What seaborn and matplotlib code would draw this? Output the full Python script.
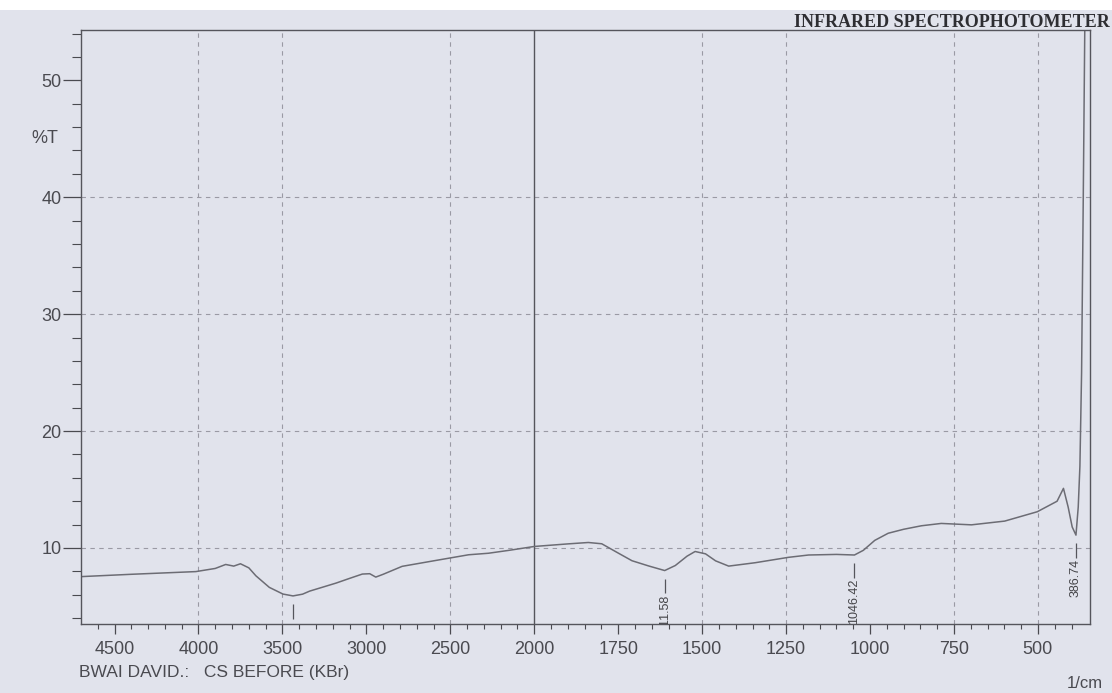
import numpy as np
import pandas as pd
import matplotlib
matplotlib.use("Agg")
import matplotlib.pyplot as plt
import matplotlib.transforms as mtransforms
from matplotlib.patches import Rectangle
import seaborn as sns

# Spectrum (wavenumber in 1/cm, %T)
wavenumber = [4700, 4400, 4016, 3900, 3838, 3790, 3750, 3700, 3658, 3578,
              3497, 3437, 3380, 3338, 3260, 3180, 3100, 3024, 2980, 2944,
              2900, 2787, 2600, 2391, 2273, 2150, 2000, 1900, 1839, 1799,
              1749, 1709, 1659, 1611.58, 1580, 1545, 1521, 1490, 1460, 1421,
              1380, 1342, 1243, 1183, 1100, 1046.42, 1020, 986, 946, 900,
              847, 788, 698, 599, 502, 443, 424, 410, 398, 386.74,
              380, 375, 370, 365, 360]
transmittance = [7.55, 7.75, 7.98, 8.25, 8.59, 8.45, 8.65, 8.3, 7.62, 6.63,
                 6.06, 5.90, 6.05, 6.31, 6.65, 7.0, 7.4, 7.77, 7.8, 7.51,
                 7.75, 8.43, 8.9, 9.42, 9.55, 9.8, 10.13, 10.35, 10.47, 10.36,
                 9.55, 8.91, 8.46, 8.07, 8.5, 9.3, 9.7, 9.5, 8.9, 8.45,
                 8.6, 8.74, 9.2, 9.4, 9.45, 9.40, 9.8, 10.65, 11.26, 11.6,
                 11.9, 12.1, 11.98, 12.3, 13.1, 14.0, 15.1, 13.5, 11.8, 11.1,
                 13.5, 17.0, 25.0, 40.0, 56.0]

# picked peaks (the first one has its label hidden below the axis)
peak_wn = [3437, 1611.58, 1046.42, 386.74]
peak_t = [5.90, 8.07, 9.40, 11.1]
peak_text = ["", "1611.58", "1046.42", "386.74"]

x_major = [4500, 4000, 3500, 3000, 2500, 2000, 1750, 1500, 1250, 1000, 750, 500]
y_major = [10, 20, 30, 40, 50]
grid_x = [4000, 3500, 2500, 1500, 1250, 750, 500]
grid_y = [10, 20, 30, 40]

df = pd.DataFrame({"wn": wavenumber, "t": transmittance})


# chart uses half the scale above 2000 1/cm
def fwd(x):
    x = np.asarray(x, dtype=float)
    return np.where(x > 2000, 2000 + (x - 2000) / 2, x)


def inv(u):
    u = np.asarray(u, dtype=float)
    return np.where(u > 2000, 2000 + (u - 2000) * 2, u)


sns.set_style("ticks")
plt.rcParams["font.family"] = ["Liberation Sans", "DejaVu Sans"]

paper = "#e1e3ec"
ink = "#4a4a50"

fig = plt.figure(figsize=(11.12, 6.93), dpi=100, facecolor=paper)
ax = fig.add_axes([0.0728, 0.0996, 0.9074, 0.857])
ax.set_facecolor(paper)

sns.lineplot(data=df, x="wn", y="t", ax=ax, sort=False, errorbar=None,
             color="#6c6c74", linewidth=1.1)

ax.set_xscale("function", functions=(fwd, inv))
ax.set_xlim(4700, 345)
ax.set_ylim(3.5, 54.3)

# grid
for gx in grid_x:
    ax.axvline(gx, color="#9a9aa4", lw=0.8, ls=(0, (4, 4)), zorder=0)
for gy in grid_y:
    ax.axhline(gy, color="#9a9aa4", lw=0.8, ls=(0, (4, 4)), zorder=0)
ax.axvline(2000, color="#55555c", lw=1.0, zorder=1)

# peak markers and labels
pt = np.array(peak_t)
ax.vlines(peak_wn, pt - 1.95, pt - 0.7, color="#55555c", lw=0.9)
for wn, t, txt in zip(peak_wn, peak_t, peak_text):
    if txt:
        ax.text(wn, t - 2.05, txt, rotation=90, ha="center", va="top",
                fontsize=9, color="#444448", clip_on=True)

# ticks
x_minor = [v for v in list(range(4600, 2000, -100)) + list(range(1950, 350, -50))
           if v not in x_major]
y_minor = [v for v in range(4, 55, 2) if v not in y_major]
ax.set_xticks(x_major)
ax.set_xticklabels([str(v) for v in x_major])
ax.set_xticks(x_minor, minor=True)
ax.set_yticks(y_major)
ax.set_yticks(y_minor, minor=True)
ax.set_xlabel("")
ax.set_ylabel("")

ax.tick_params(axis="x", which="major", direction="out", length=7.5, width=0.9,
               pad=5, labelsize=13, color=ink, labelcolor=ink)
ax.tick_params(axis="x", which="minor", direction="out", length=3.5, width=0.8, color=ink)
ax.tick_params(axis="y", which="major", direction="out", length=13, width=0.9,
               pad=1, labelsize=13, color=ink, labelcolor=ink)
ax.tick_params(axis="y", which="minor", direction="out", length=6.5, width=0.8, color=ink)

for s in ax.spines.values():
    s.set_color("#55555c")
    s.set_linewidth(1.0)

# text around the frame
trans = mtransforms.blended_transform_factory(ax.transAxes, ax.transData)
ax.text(-0.0225, 45, "%T", transform=trans, ha="right", va="center",
        fontsize=13, color=ink)

fig.text(0.071, 0.03, "BWAI DAVID.:   CS BEFORE (KBr)", ha="left", va="center",
         fontsize=12.5, color=ink)
fig.text(0.976, 0.013, "1/cm", ha="center", va="center", fontsize=12, color=ink)
fig.text(0.998, 0.968, "INFRARED SPECTROPHOTOMETER", ha="right", va="center",
         fontsize=13, fontweight="bold", color="#2e2e32",
         family=["Liberation Serif", "DejaVu Serif"])

# white strip left at the top of the scan
fig.patches.append(Rectangle((0, 1 - 10 / 693), 1, 10 / 693, transform=fig.transFigure,
                             facecolor="white", edgecolor="none", zorder=-1))

fig.savefig("out.png", dpi=100, facecolor=paper)
